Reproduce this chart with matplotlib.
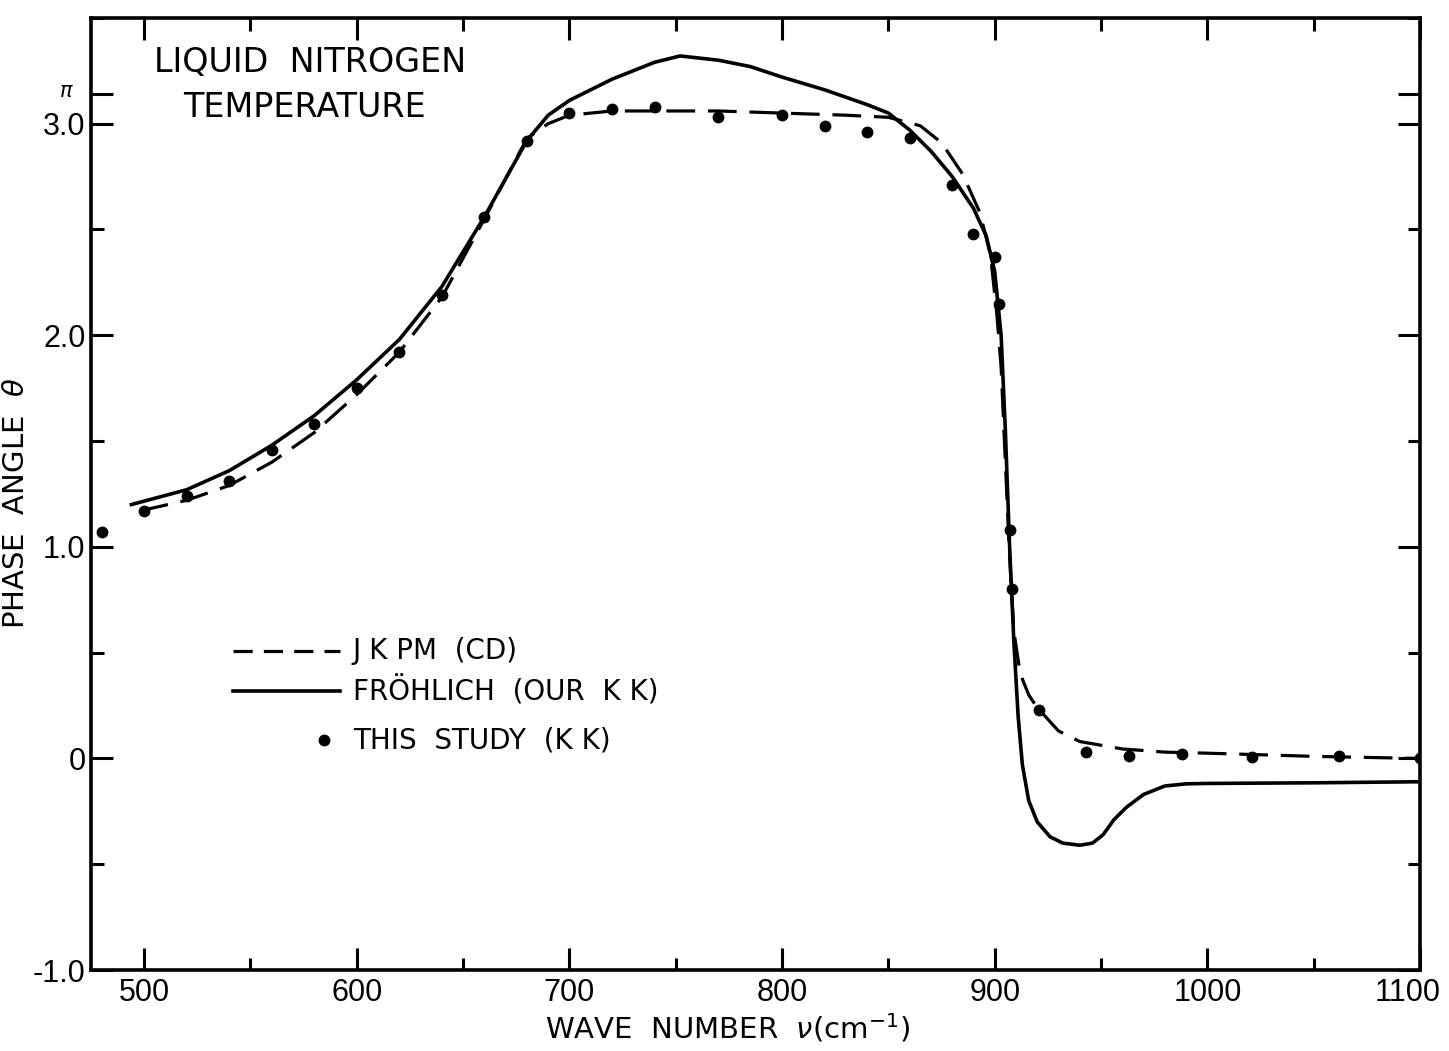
import numpy as np
import matplotlib.pyplot as plt
from matplotlib.lines import Line2D
from matplotlib.ticker import MultipleLocator, FixedLocator

plt.rcParams['font.family'] = ['DejaVu Sans']

# JKPM (CD) - dashed curve
jkpm_x = [498, 520, 540, 560, 580, 600, 620, 640, 660, 680, 690, 700, 720, 740,
          770, 800, 830, 850, 865, 875, 885, 893, 898, 901, 903, 905, 907, 909,
          912, 916, 920, 930, 940, 960, 980, 1000, 1050, 1100]
jkpm_y = [1.17, 1.22, 1.29, 1.40, 1.54, 1.72, 1.92, 2.18, 2.55, 2.93, 3.00, 3.04,
          3.06, 3.06, 3.06, 3.05, 3.04, 3.03, 2.99, 2.91, 2.76, 2.58, 2.38, 2.10,
          1.85, 1.40, 0.95, 0.60, 0.40, 0.30, 0.24, 0.13, 0.08, 0.045, 0.03, 0.025,
          0.01, 0.0]

# Frohlich (our KK) - solid curve
froh_x = [494, 520, 540, 560, 580, 600, 620, 640, 660, 680, 690, 700, 720, 740,
          752, 770, 785, 800, 820, 840, 850, 860, 870, 880, 890, 896, 900, 903,
          905, 907, 909, 911, 913, 916, 920, 926, 932, 940, 946, 951, 956, 962,
          970, 980, 990, 1000, 1050, 1100]
froh_y = [1.20, 1.27, 1.36, 1.48, 1.62, 1.79, 1.98, 2.23, 2.56, 2.92, 3.04, 3.11,
          3.21, 3.29, 3.32, 3.30, 3.27, 3.22, 3.16, 3.09, 3.05, 2.97, 2.87, 2.75,
          2.60, 2.47, 2.30, 2.00, 1.55, 1.00, 0.55, 0.20, -0.03, -0.20, -0.30,
          -0.37, -0.40, -0.41, -0.40, -0.36, -0.29, -0.23, -0.17, -0.13, -0.12,
          -0.118, -0.115, -0.11]

# This study (KK) - dots
study_x = [480, 500, 520, 540, 560, 580, 600, 620, 640, 660, 680, 700, 720, 740,
           770, 800, 820, 840, 860, 880, 890, 900, 902, 907, 908, 921, 943, 963,
           988, 1021, 1062, 1100]
study_y = [1.07, 1.17, 1.24, 1.31, 1.46, 1.58, 1.75, 1.92, 2.19, 2.56, 2.92, 3.05,
           3.07, 3.08, 3.03, 3.04, 2.99, 2.96, 2.93, 2.71, 2.48, 2.37, 2.15, 1.08,
           0.80, 0.23, 0.03, 0.01, 0.02, 0.005, 0.01, 0.0]

x_ticks = [500, 600, 700, 800, 900, 1000, 1100]
x_labels = ['500', '600', '700', '800', '900', '1000', '']

fig = plt.figure(figsize=(14.49, 10.51), dpi=100)
ax = fig.add_axes([0.0628, 0.077, 0.9172, 0.906])

ax.plot(jkpm_x, jkpm_y, color='black', lw=2.3, dashes=[9, 4], solid_capstyle='butt')
ax.plot(froh_x, froh_y, color='black', lw=2.6)
ax.plot(study_x, study_y, 'o', color='black', ms=7.5)

ax.set_xlim(475, 1100)
ax.set_ylim(-1.0, 3.5)

ax.set_xticks(x_ticks, x_labels)
ax.xaxis.set_minor_locator(MultipleLocator(50))
ax.yaxis.set_major_locator(FixedLocator([-1.0, 0, 1.0, 2.0, 3.0, np.pi]))
ax.yaxis.set_minor_locator(MultipleLocator(0.5))
ax.set_yticklabels(['-1.0', '0', '1.0', '2.0', '3.0', ''])
ax.tick_params(which='both', direction='in', top=True, right=True, width=2.2,
               labelsize=22)
ax.tick_params(which='major', length=16, pad=6)
ax.tick_params(which='minor', length=9)
ax.tick_params(axis='y', pad=4)
for lab in ax.get_xticklabels() + ax.get_yticklabels():
    lab.set_family(['Liberation Sans', 'DejaVu Sans'])
for s in ax.spines.values():
    s.set_linewidth(2.6)

# last x label nudged left so it stays inside the figure
ax.annotate('1100', xy=(x_ticks[-1], 0), xycoords=('data', 'axes fraction'),
            xytext=(-9, -6), textcoords='offset points', ha='center', va='top',
            fontsize=22, family=['Liberation Sans', 'DejaVu Sans'])

ax.text(-0.013, (np.pi + 1.0) / 4.5 + 0.003, r'$\pi$', transform=ax.transAxes,
        ha='right', va='center', fontsize=15)

ax.set_xlabel(r'WAVE  NUMBER  $\nu$(cm$^{-1}$)', fontsize=21)
ax.xaxis.set_label_coords(0.479, -0.044, transform=ax.transAxes)
ax.set_ylabel(r'PHASE  ANGLE  $\theta$', fontsize=21)
ax.yaxis.set_label_coords(-0.046, 0.49)

ax.text(0.165, 0.953, 'LIQUID  NITROGEN', transform=ax.transAxes,
        ha='center', va='center', fontsize=24)
ax.text(0.161, 0.906, 'TEMPERATURE', transform=ax.transAxes,
        ha='center', va='center', fontsize=24)

# legend drawn by hand
lx0, lx1, tx = 0.107, 0.187, 0.197
ax.add_line(Line2D([lx0, lx1], [0.335, 0.335], transform=ax.transAxes,
                   color='black', lw=2.3, dashes=[6, 3.5]))
ax.add_line(Line2D([lx0, lx1], [0.293, 0.293], transform=ax.transAxes,
                   color='black', lw=2.6))
ax.add_line(Line2D([0.175], [0.2416], transform=ax.transAxes, marker='o',
                   color='black', ms=7.5, ls='none'))
ax.text(tx, 0.335, 'J K PM  (CD)', transform=ax.transAxes, va='center', fontsize=20)
ax.text(tx, 0.293, 'FRÖHLICH  (OUR  K K)', transform=ax.transAxes, va='center',
        fontsize=20)
ax.text(tx, 0.2416, 'THIS  STUDY  (K K)', transform=ax.transAxes, va='center',
        fontsize=20)

fig.savefig('out.png', dpi=100)
